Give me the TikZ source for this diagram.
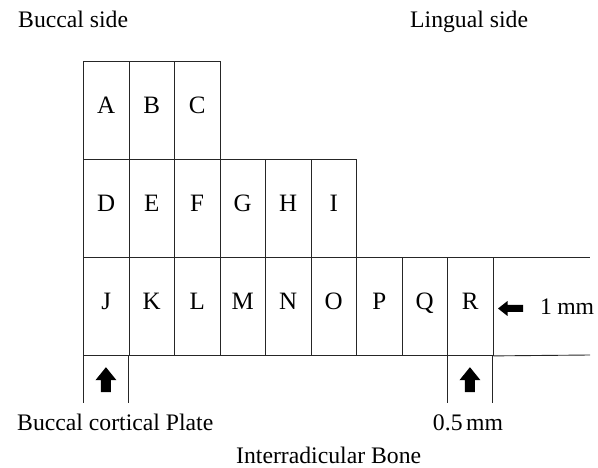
\documentclass[tikz,border=0pt]{standalone}
\usepackage{fontspec}
\setmainfont{Liberation Serif}
\begin{document}
\begin{tikzpicture}[x=1pt,y=-1pt,
  cell/.style={draw=black!85,line width=0.9pt,minimum width=45.5pt,minimum height=98pt,
    inner sep=0pt,anchor=north west,font=\fontsize{25}{28}\selectfont,
    text height=0.66em,text depth=0pt},
  lbl/.style={inner sep=0pt,font=\fontsize{23.7}{27}\selectfont,anchor=base west},
  gridline/.style={draw=black!85,line width=0.9pt},
  blk/.style={fill=black,draw=none}]
\useasboundingbox (0,0) rectangle (598,468);
% row 1
\node[cell] (A) at (83,61) {A};
\node[cell] (B) at (128.5,61) {B};
\node[cell] (C) at (174,61) {C};
% row 2
\node[cell] (D) at (83,159) {D};
\node[cell] (E) at (128.5,159) {E};
\node[cell] (F) at (174,159) {F};
\node[cell] (G) at (219.5,159) {G};
\node[cell] (H) at (265,159) {H};
\node[cell] (I) at (310.5,159) {I};
% row 3
\node[cell] (J) at (83,257) {J};
\node[cell] (K) at (128.5,257) {K};
\node[cell] (L) at (174,257) {L};
\node[cell] (M) at (219.5,257) {M};
\node[cell] (N) at (265,257) {N};
\node[cell] (O) at (310.5,257) {O};
\node[cell] (P) at (356,257) {P};
\node[cell] (Q) at (401.5,257) {Q};
\node[cell] (R) at (447,257) {R};
% extension to the right
\coordinate (rt) at (590,257);
\coordinate (rb) at (590,355);
\draw[gridline] (R.north east) -- (rt);
\draw[gridline] (R.south east) -- (rb);
% boxes below J and R
\node[minimum width=45.5pt,minimum height=48pt,inner sep=0pt,anchor=north west] (Jb) at (83,355) {};
\node[minimum width=45.5pt,minimum height=48pt,inner sep=0pt,anchor=north west] (Rb) at (447,355) {};
\draw[gridline] (Jb.north west) -- (Jb.south west);
\draw[gridline] (Jb.north east) -- (Jb.south east);
\draw[gridline] (Rb.north west) -- (Rb.south west);
\draw[gridline] (Rb.north east) -- (Rb.south east);
% up arrows
\begin{scope}[shift={(Jb.center)}]
\fill[blk] (0,-12) -- (10.5,1) -- (5,1) -- (5,13) -- (-5,13) -- (-5,1) -- (-10.5,1) -- cycle;
\end{scope}
\begin{scope}[shift={(Rb.center)}]
\fill[blk] (0,-12) -- (10.5,1) -- (5,1) -- (5,13) -- (-5,13) -- (-5,1) -- (-10.5,1) -- cycle;
\end{scope}
% left arrow
\coordinate (la) at (510.5,308.5);
\begin{scope}[shift={(la)}]
\fill[blk] (-12.5,0) -- (-3,-7.5) -- (-3,-3.5) -- (12.5,-3.5) -- (12.5,3.5) -- (-3,3.5) -- (-3,7.5) -- cycle;
\end{scope}
% labels
\node[lbl] (bs) at (18,28) {Buccal side};
\node[lbl] (ls) at (410,28) {Lingual side};
\node[lbl] (onemm) at (540,315) {1\hspace{0.22em}mm};
\node[lbl] (bcp) at (17,430) {Buccal cortical Plate};
\node[lbl,anchor=base] (half) at (468,430) {0.5\hspace{0.15em}mm};
\node[lbl] (ib) at (236,463) {Interradicular Bone};
\end{tikzpicture}
\end{document}
